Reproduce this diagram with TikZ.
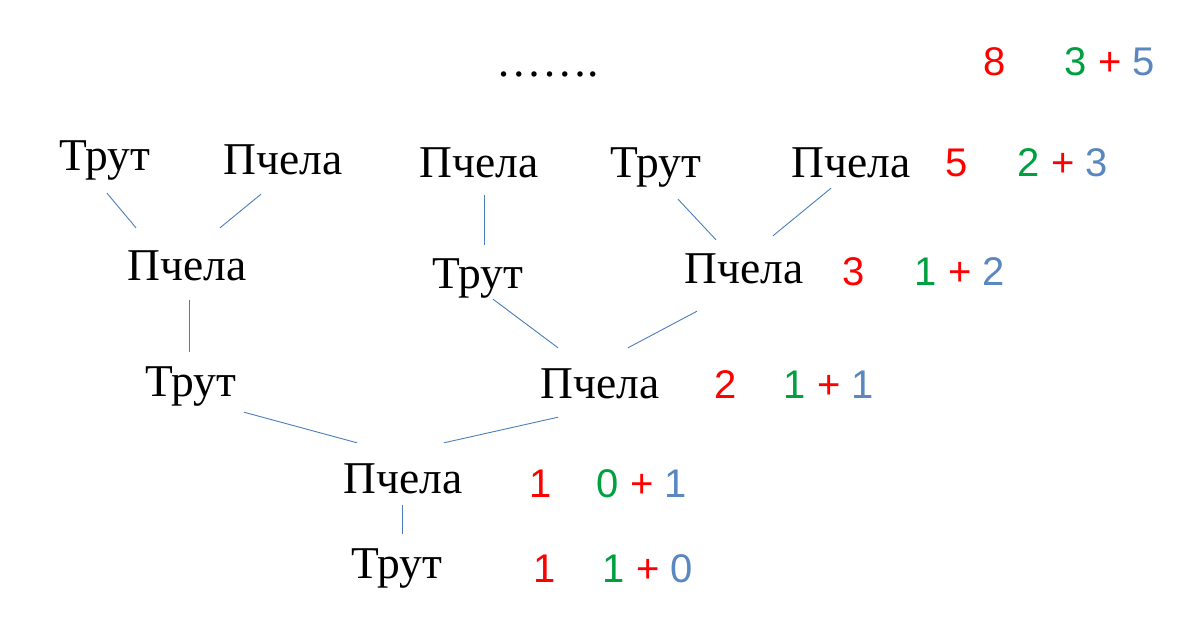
\documentclass[tikz,border=0pt]{standalone}
\usepackage{fontspec}
\setmainfont{Liberation Serif}
\newfontfamily\numfont{Liberation Sans}
\definecolor{grn}{HTML}{00A040}
\definecolor{blu}{HTML}{5A87BF}
\definecolor{lnk}{HTML}{4A7EBB}
\newcommand\sumof[2]{{\color{grn}#1} + {\color{blu}#2}}
\tikzset{
  bee/.style={font=\fontsize{45.5}{52}\selectfont, anchor=base, inner sep=0pt,
    text height=31pt, text depth=10pt},
  total/.style={font=\numfont\fontsize{40}{46}\selectfont, anchor=base,
    text=red, inner sep=0pt},
  link/.style={draw=lnk, line width=0.9pt}
}
\begin{document}
\begin{tikzpicture}[x=1pt,y=-1pt]
\useasboundingbox (0,0) rectangle (1199,639);

% top row
\node[bee] (dots) at (548,77) {…….};
\node[total] (n6) at (995,76) {8};
\node[total] (s6) at (1110,76) {\sumof{3}{5}};

% row 5
\node[bee] (t5a) at (105,171) {Трут};
\node[bee] (p5a) at (283,175) {Пчела};
\node[bee] (p5b) at (479,178) {Пчела};
\node[bee] (t5b) at (656,178) {Трут};
\node[bee] (p5c) at (851,178) {Пчела};
\node[total] (n5) at (957,177) {5};
\node[total] (s5) at (1063,177) {\sumof{2}{3}};

% row 4
\node[bee] (p4a) at (187,280) {Пчела};
\node[bee] (t4) at (478,288) {Трут};
\node[bee] (p4b) at (744,283) {Пчела};
\node[total] (n4) at (854,285) {3};
\node[total] (s4) at (960,285) {\sumof{1}{2}};

% row 3
\node[bee] (t3) at (191,396) {Трут};
\node[bee] (p3) at (600,398) {Пчела};
\node[total] (n3) at (726,398) {2};
\node[total] (s3) at (829,398) {\sumof{1}{1}};

% row 2
\node[bee] (p2) at (403,493) {Пчела};
\node[total] (n2) at (541,497) {1};
\node[total] (s2) at (642,497) {\sumof{0}{1}};

% row 1
\node[bee] (t1) at (397,578) {Трут};
\node[total] (n1) at (545,582) {1};
\node[total] (s1) at (648,582) {\sumof{1}{0}};

% links
\draw[link] ([shift={(2,12)}]t5a.south) -- ([shift={(-51,-21)}]p4a.north);
\draw[link] ([shift={(-22,9)}]p5a.south) -- ([shift={(33,-21)}]p4a.north);
\draw[link] ([shift={(5,7)}]p5b.south) -- ([shift={(6,-12)}]t4.north);
\draw[link] ([shift={(22,11)}]t5b.south) -- ([shift={(-28,-12)}]p4b.north);
\draw[link] ([shift={(-20,0)}]p5c.south) -- ([shift={(29,-16)}]p4b.north);
\draw[link] ([shift={(2,10)}]p4a.south) -- ([shift={(-2,-13)}]t3.north);
\draw[link] ([shift={(15,1)}]t4.south) -- ([shift={(-42,-19)}]p3.north);
\draw[link] ([shift={(-47,18)}]p4b.south) -- ([shift={(28,-19)}]p3.north);
\draw[link] ([shift={(53,6)}]t3.south) -- ([shift={(-46,-19)}]p2.north);
\draw[link] ([shift={(-42,9)}]p3.south) -- ([shift={(41,-19)}]p2.north);
\draw[link] ([shift={(-1,2)}]p2.south) -- ([shift={(5,-13)}]t1.north);
\end{tikzpicture}
\end{document}
